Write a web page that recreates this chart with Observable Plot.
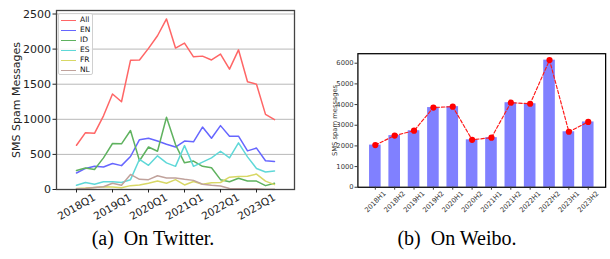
<!DOCTYPE html>
<html>
<head>
<meta charset="utf-8">
<script src="https://cdn.jsdelivr.net/npm/d3@7"></script>
<script src="https://cdn.jsdelivr.net/npm/@observablehq/plot@0.6"></script>
<style>
  html, body { margin: 0; padding: 0; background: #fff; }
  #wrap { position: relative; width: 610px; height: 259px; overflow: hidden; background: #fff; }
  .panel { position: absolute; top: 0; }
  .cap { position: absolute; font-family: "Liberation Serif", "Times New Roman", serif; font-size: 20px; color: #000; white-space: pre; transform: translateX(-50%); }
  #legend { position: absolute; left: 58px; top: 13px; width: 33px; height: 60px; border: 1px solid #d0d0d0; border-radius: 2px; background: rgba(255,255,255,0.85); font-family: "DejaVu Sans", sans-serif; font-size: 7.5px; }
  .lrow { position: absolute; left: 0; height: 10px; width: 100%; }
  .lline { position: absolute; left: 2px; width: 15px; height: 1.5px; top: 4.5px; }
  .ltext { position: absolute; left: 21px; top: 0px; line-height: 10px; color: #111; }
</style>
</head>
<body>
<div id="wrap">
  <div id="left" class="panel" style="left:0px"></div>
  <div id="legend"></div>
  <div id="right" class="panel" style="left:310px"></div>
  <div class="cap" style="left:153px; top:227px">(a)  On Twitter.</div>
  <div class="cap" style="left:457px; top:227px">(b)  On Weibo.</div>
</div>
<script>
// ---------- Twitter (quarterly) ----------
const quarters = ["2018Q1","2018Q2","2018Q3","2018Q4","2019Q1","2019Q2","2019Q3","2019Q4",
                  "2020Q1","2020Q2","2020Q3","2020Q4","2021Q1","2021Q2","2021Q3","2021Q4",
                  "2022Q1","2022Q2","2022Q3","2022Q4","2023Q1","2023Q2","2023Q3"];
const quarterTicks = ["2018Q1","2019Q1","2020Q1","2021Q1","2022Q1","2023Q1"];
const allMsgs = [630, 810, 800, 1050, 1360, 1250, 1840, 1845, 2010, 2190, 2430, 2015, 2085, 1890, 1900, 1845, 1930, 1715, 1990, 1535, 1500, 1070, 995];
const enMsgs  = [235, 300, 330, 320, 370, 340, 470, 710, 730, 690, 645, 605, 690, 680, 890, 730, 910, 760, 760, 550, 590, 410, 400];
const idMsgs  = [270, 305, 285, 450, 655, 650, 840, 410, 605, 545, 1030, 640, 380, 405, 330, 310, 140, 110, 160, 120, 120, 55, 90];
const esMsgs  = [60, 100, 75, 110, 110, 100, 140, 430, 345, 480, 380, 330, 625, 330, 390, 450, 545, 450, 665, 465, 300, 250, 265];
const frMsgs  = [15, 20, 30, 40, 35, 25, 55, 65, 90, 120, 90, 140, 65, 115, 75, 95, 100, 175, 185, 190, 220, 120, 70];
const nlMsgs  = [10, 15, 30, 40, 90, 60, 215, 145, 140, 195, 165, 165, 145, 130, 75, 60, 50, 15, 10, 10, 10, 5, 5];
const langNames  = ["All", "EN", "ID", "ES", "FR", "NL"];
const langColors = ["#ff6666", "#6666ff", "#5fb25f", "#5fd8d8", "#d8d866", "#c0a29c"];
const yTicksTwitter = [0, 500, 1000, 1500, 2000, 2500];

// ---------- Weibo (half-yearly) ----------
const halves = ["2018H1","2018H2","2019H1","2019H2","2020H1","2020H2","2021H1","2021H2","2022H1","2022H2","2023H1","2023H2"];
const weiboMsgs = [2040, 2500, 2735, 3855, 3900, 2295, 2400, 4090, 4040, 6150, 2685, 3160];
const yTicksWeibo = [0, 1000, 2000, 3000, 4000, 5000, 6000];

// ---------- build left chart ----------
const seriesList = [allMsgs, enMsgs, idMsgs, esMsgs, frMsgs, nlMsgs];
const twRows = [];
seriesList.forEach((vals, k) => vals.forEach((v, i) => twRows.push({q: quarters[i], v, lang: langNames[k]})));

const left = Plot.plot({
  width: 305, height: 230,
  marginLeft: 56, marginRight: 11, marginTop: 10, marginBottom: 41,
  style: {fontFamily: "DejaVu Sans", fontSize: "11px", color: "#222", background: "transparent", overflow: "visible"},
  x: {type: "point", domain: quarters, padding: 1},
  y: {domain: [0, 2550]},
  color: {domain: langNames, range: langColors},
  marks: [
    Plot.gridY(yTicksTwitter, {stroke: "#b0b0b0", strokeOpacity: 1, strokeWidth: 0.9}),
    Plot.line(twRows, {x: "q", y: "v", z: "lang", stroke: "lang", strokeWidth: 1.5}),
    Plot.frame({stroke: "#444", strokeWidth: 1.3}),
    Plot.axisY({ticks: yTicksTwitter, tickFormat: d => String(d), tickSize: 3.5, tickPadding: 2, label: "SMS Spam Messages", labelAnchor: "center", labelArrow: "none", labelOffset: 44}),
    Plot.axisX({ticks: quarterTicks, tickSize: 3.5, tickPadding: 14, tickRotate: -30, textAnchor: "middle", lineAnchor: "middle", fontSize: 10.5, label: null})
  ]
});
document.getElementById("left").appendChild(left);

// legend
const legend = document.getElementById("legend");
langNames.forEach((name, k) => {
  const row = document.createElement("div");
  row.className = "lrow";
  row.style.top = (1 + k * 10) + "px";
  const ln = document.createElement("div");
  ln.className = "lline";
  ln.style.background = langColors[k];
  const tx = document.createElement("div");
  tx.className = "ltext";
  tx.textContent = name;
  row.appendChild(ln); row.appendChild(tx);
  legend.appendChild(row);
});

// ---------- build right chart ----------
const wbRows = halves.map((h, i) => ({h, v: weiboMsgs[i]}));
const right = Plot.plot({
  width: 310, height: 230,
  marginLeft: 49, marginRight: 5, marginTop: 55, marginBottom: 37,
  style: {fontFamily: "DejaVu Sans", fontSize: "7px", color: "#333", background: "transparent", overflow: "visible"},
  x: {type: "band", domain: halves, paddingInner: 0.4, paddingOuter: 0.58},
  y: {domain: [0, 6460]},
  marks: [
    Plot.barY(wbRows, {x: "h", y: "v", fill: "#8080ff"}),
    Plot.line(wbRows, {x: "h", y: "v", stroke: "#ff1a1a", strokeWidth: 1.2, strokeDasharray: "3.5,2"}),
    Plot.dot(wbRows, {x: "h", y: "v", fill: "#ff0000", r: 3.2}),
    Plot.frame({stroke: "#000", strokeWidth: 1.3}),
    Plot.axisY({ticks: yTicksWeibo, tickFormat: d => String(d), tickSize: 3, tickPadding: 1.5, label: "SMS spam messages", labelAnchor: "center", labelArrow: "none", labelOffset: 27}),
    Plot.axisX({tickSize: 3, tickPadding: 12, tickRotate: -45, textAnchor: "middle", lineAnchor: "middle", label: null})
  ]
});
document.getElementById("right").appendChild(right);
</script>
</body>
</html>
